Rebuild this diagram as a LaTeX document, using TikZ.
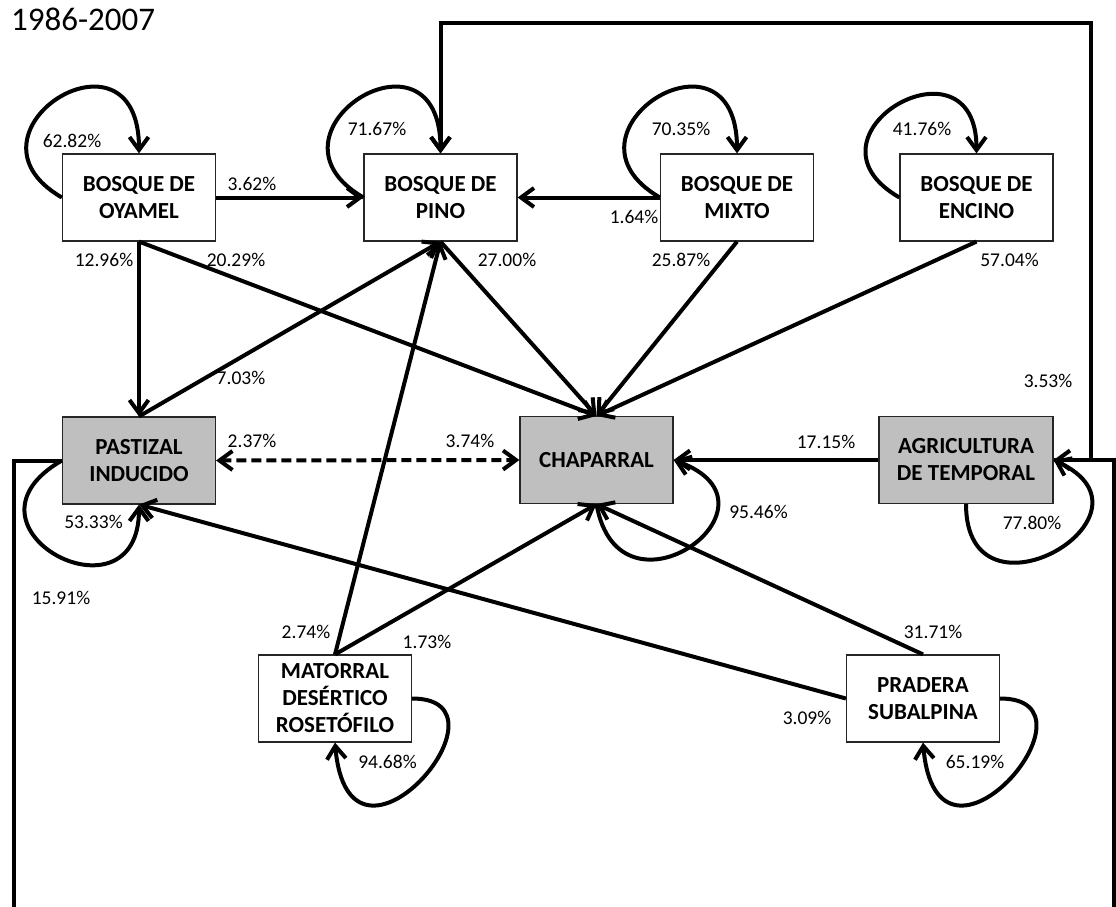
\documentclass[tikz,border=0pt]{standalone}
\usepackage{fontspec}
\setmainfont{Carlito}
\usetikzlibrary{arrows.meta}
\definecolor{boxgray}{RGB}{191,191,191}
\tikzset{
    x=1pt, y=1pt, % one unit is one pixel of the original
    >={Straight Barb[length=13pt, width=19pt]}, % open arrow heads
    box/.style={draw=black!85, line width=1.2pt, fill=white, minimum width=153pt, minimum height=87pt, inner sep=2pt, align=center, font=\bfseries\fontsize{23}{27}\selectfont}, % every class box
    shaded/.style={box, fill=boxgray}, % grey boxes
    lbl/.style={inner sep=0pt, font=\fontsize{19.5}{23}\selectfont}, % percentages
    link/.style={->, line width=4pt}, % transitions
}
\begin{document}
\begin{tikzpicture}
\useasboundingbox (0,0) rectangle (1116,-907);
\clip (0,0) rectangle (1116,-907);
\node[anchor=base west, inner sep=0pt, font=\fontsize{33}{40}\selectfont] (title) at (11,-31) {1986-2007};

\node[box] (oyamel) at (139,-197.5) {BOSQUE DE\\OYAMEL};
\node[box, node distance=301.5pt, right of=oyamel] (pino) {BOSQUE DE\\PINO};
\node[box, node distance=296.5pt, right of=pino] (mixto) {BOSQUE DE\\MIXTO};
\node[box, node distance=239.5pt, right of=mixto] (encino) {BOSQUE DE\\ENCINO};
\node[shaded, node distance=263pt, below of=oyamel] (pastizal) {PASTIZAL\\INDUCIDO};
\node[shaded] (chaparral) at (596.5,-460) {CHAPARRAL};
\node[shaded, minimum width=174pt] (agricultura) at (966,-460) {AGRICULTURA\\DE TEMPORAL};
\node[box] (matorral) at (335,-698.5) {MATORRAL\\DESÉRTICO\\ROSETÓFILO};
\node[box] (pradera) at (923,-698.5) {PRADERA\\SUBALPINA};

\coordinate (topright) at (1091,-23);
\coordinate (botleft) at (13.5,-930);
\coordinate (botright) at (1114,-930);

% self loops
\draw[link] (oyamel.west) .. controls +(150:130) and +(90:140) .. (oyamel.north);
\draw[link] (pino.west) .. controls +(150:130) and +(90:140) .. (pino.north);
\draw[link] (mixto.west) .. controls +(150:130) and +(90:140) .. (mixto.north);
\draw[link] (encino.west) .. controls +(150:125) and +(90:125) .. (encino.north);
\draw[link] (pastizal.west) .. controls +(210:135) and +(270:125) .. (pastizal.south);
\draw[link] (chaparral.south) .. controls +(-80:130) and +(-20:130) .. (chaparral.east);
\draw[link] (agricultura.south) .. controls +(-90:130) and +(-25:130) .. (agricultura.east);
\draw[link] (matorral.east) .. controls +(0:110) and +(-85:160) .. (matorral.south);
\draw[link] (pradera.east) .. controls +(0:110) and +(-85:160) .. (pradera.south);

% transitions
\draw[link] (oyamel.east) -- (pino.west);
\draw[link] (mixto.west) -- (pino.east);
\draw[link] (oyamel.south) -- (pastizal.north);
\draw[link] (oyamel.south) -- (chaparral.north);
\draw[link] (pino.south) -- (chaparral.north);
\draw[link] (mixto.south) -- (chaparral.north);
\draw[link] (encino.south) -- (chaparral.north);
\draw[link] (pastizal.north) -- (pino.south);
\draw[link] (matorral.north) -- (pino.south);
\draw[link] (matorral.north) -- (chaparral.south);
\draw[link] (pradera.north) -- (chaparral.south);
\draw[link] (pradera.west) -- (pastizal.south);
\draw[link] (agricultura.west) -- (chaparral.east);
\draw[link, <->, dash pattern=on 10pt off 5pt] (pastizal.east) -- (chaparral.west);
\draw[link] (agricultura.east) -| (topright) -| (pino.north);
\draw[link] (pastizal.west) -| (botleft) -- (botright) |- (agricultura.east);

% percentages
\node[lbl] (p-oyamel) at (72,-141) {62.82\%};
\node[lbl] (p-pino) at (377,-129) {71.67\%};
\node[lbl] (p-mixto) at (681,-129) {70.35\%};
\node[lbl] (p-encino) at (922,-129) {41.76\%};
\node[lbl] (p-oy-pi) at (252,-184) {3.62\%};
\node[lbl] (p-mi-pi) at (634,-217) {1.64\%};
\node[lbl] (p-oy-pa) at (104,-260) {12.96\%};
\node[lbl] (p-oy-ch) at (236,-260) {20.29\%};
\node[lbl] (p-pi-ch) at (507,-260) {27.00\%};
\node[lbl] (p-mi-ch) at (681,-260) {25.87\%};
\node[lbl] (p-en-ch) at (1009.5,-260) {57.04\%};
\node[lbl] (p-pa-pi) at (241,-378) {7.03\%};
\node[lbl] (p-ag-pi) at (1048,-381) {3.53\%};
\node[lbl] (p-pa-ch) at (252,-441) {2.37\%};
\node[lbl] (p-ch-pa) at (470,-441) {3.74\%};
\node[lbl] (p-ag-ch) at (826,-442) {17.15\%};
\node[lbl] (p-pastizal) at (93.5,-522) {53.33\%};
\node[lbl] (p-chaparral) at (758.5,-512) {95.46\%};
\node[lbl] (p-agricultura) at (1032,-523) {77.80\%};
\node[lbl] (p-pa-ag) at (61,-598) {15.91\%};
\node[lbl] (p-pr-ch) at (933,-632) {31.71\%};
\node[lbl] (p-ma-pi) at (306,-632) {2.74\%};
\node[lbl] (p-ma-ch) at (427,-642) {1.73\%};
\node[lbl] (p-pr-pa) at (807,-718) {3.09\%};
\node[lbl] (p-matorral) at (387.5,-762) {94.68\%};
\node[lbl] (p-pradera) at (975,-762) {65.19\%};
\end{tikzpicture}
\end{document}
